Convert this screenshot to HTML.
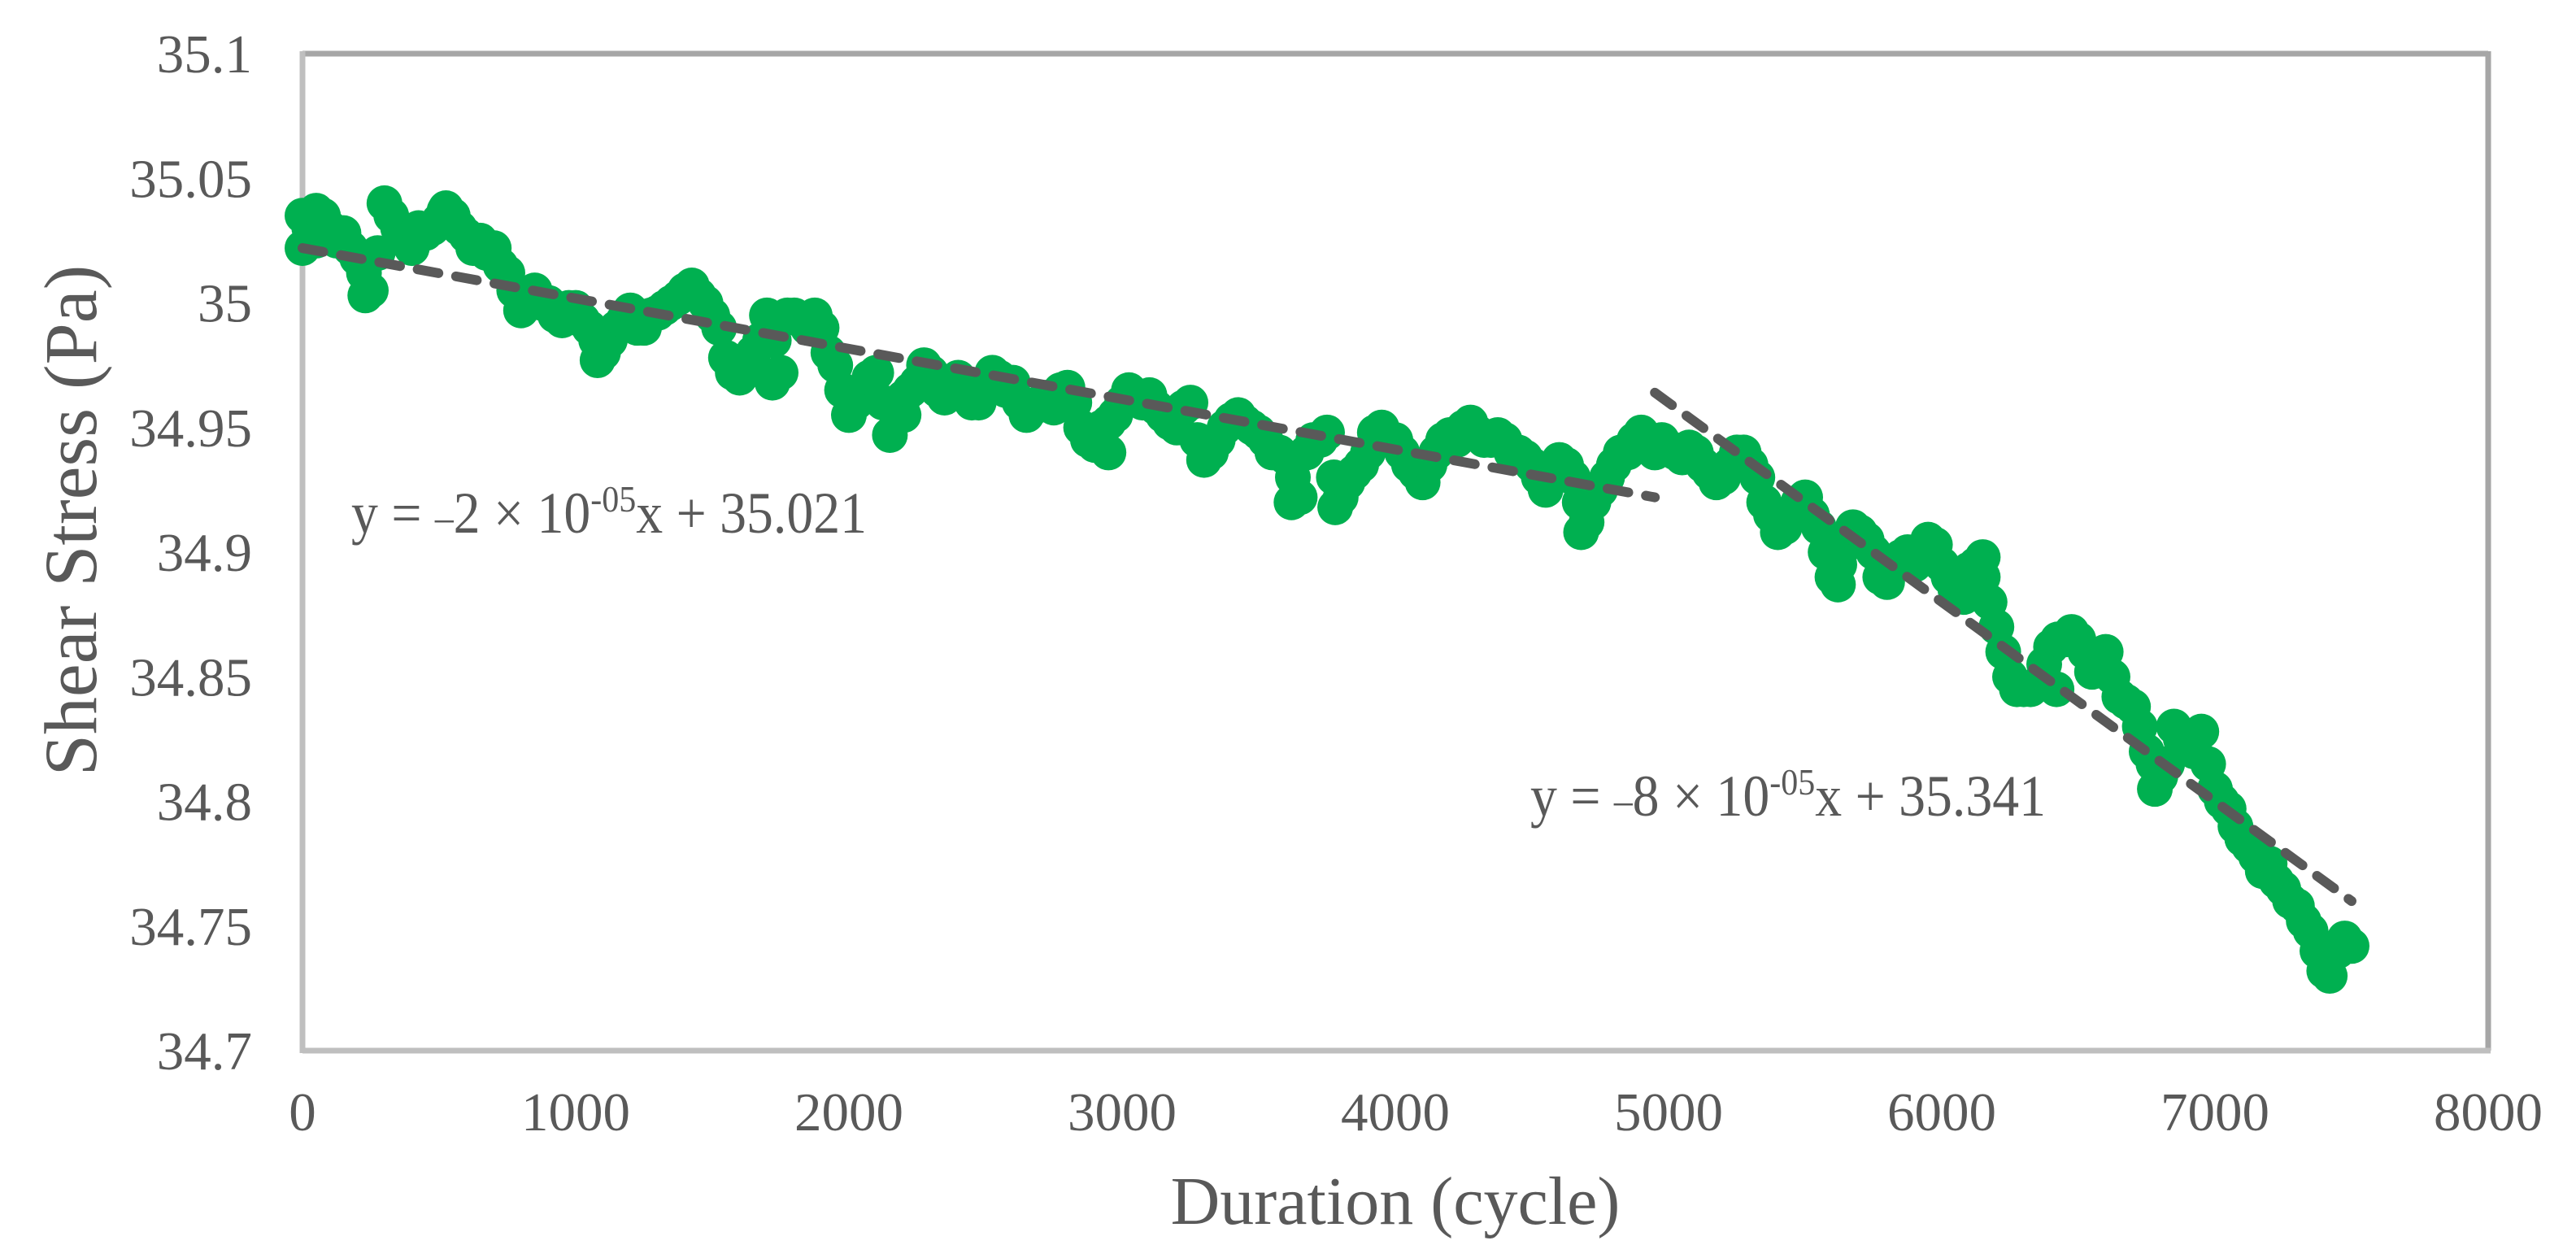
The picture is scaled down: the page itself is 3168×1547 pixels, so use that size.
<!DOCTYPE html>
<html><head><meta charset="utf-8"><style>
html,body{margin:0;padding:0;background:#fff;}
svg{display:block;font-family:"Liberation Serif",serif;}
</style></head><body>
<svg id="chart" width="3168" height="1547" viewBox="0 0 3168 1547" xmlns="http://www.w3.org/2000/svg">
<rect x="0" y="0" width="3168" height="1547" fill="#fff"/>
</svg>
<script>
const durations=[0,50,100,150,200,250,300,350,400,450,500,550,600,650,700,750,800,850,900,950,1000,1050,1100,1150,1200,1250,1300,1350,1400,1450,1500,1550,1600,1650,1700,1750,1800,1850,1900,1950,2000,2050,2100,2150,2200,2250,2300,2350,2400,2450,2500,2550,2600,2650,2700,2750,2800,2850,2900,2950,3000,3050,3100,3150,3200,3250,3300,3350,3400,3450,3500,3550,3600,3650,3700,3750,3800,3850,3900,3950,4000,4050,4100,4150,4200,4250,4300,4350,4400,4450,4500,4550,4600,4650,4700,4750,4800,4850,4900,4950,5000,5050,5100,5150,5200,5250,5300,5350,5400,5450,5500,5550,5600,5650,5700,5750,5800,5850,5900,5950,6000,6050,6100,6150,6200,6250,6300,6350,6400,6450,6500,6550,6600,6650,6700,6750,6800,6850,6900,6950,7000,7050,7100,7150,7200,7250,7300,7350,7400,7450,7500,
0,230,520,1080,1720,3620,3780,4680,5620,6080,6420,6780,7420,50,2200,2950,6150,5950];
const stress=[35.022,35.037,35.03,35.028,35.018,35.005,35.04,35.03,35.022,35.028,35.033,35.035,35.027,35.025,35.022,35.012,34.997,35.005,35.0,34.993,34.998,34.99,34.98,34.99,34.997,34.99,34.996,35.0,35.005,35.003,34.995,34.978,34.97,34.98,34.995,34.972,34.995,34.99,34.99,34.975,34.955,34.965,34.972,34.947,34.962,34.968,34.972,34.962,34.97,34.96,34.967,34.97,34.968,34.955,34.96,34.958,34.966,34.95,34.943,34.952,34.96,34.962,34.963,34.955,34.95,34.96,34.937,34.945,34.953,34.952,34.948,34.94,34.938,34.922,34.945,34.948,34.922,34.932,34.94,34.95,34.945,34.935,34.928,34.94,34.947,34.95,34.948,34.945,34.945,34.94,34.935,34.925,34.937,34.93,34.912,34.925,34.935,34.94,34.948,34.94,34.942,34.938,34.94,34.932,34.93,34.94,34.935,34.92,34.908,34.915,34.922,34.91,34.89,34.903,34.908,34.9,34.888,34.898,34.895,34.9,34.895,34.885,34.893,34.89,34.87,34.85,34.845,34.847,34.862,34.865,34.865,34.852,34.86,34.842,34.838,34.82,34.81,34.83,34.822,34.828,34.805,34.797,34.785,34.778,34.775,34.765,34.758,34.748,34.732,34.74,34.742,
35.035,35.003,35.037,34.977,34.968,34.92,34.918,34.908,34.887,34.882,34.845,34.805,34.73,35.025,34.955,34.94,34.898,34.905];
const durationsB=[25,75,125,175,225,275,325,375,425,475,525,575,625,675,725,775,825,875,925,975,1025,1075,1125,1175,1225,1275,1325,1375,1425,1475,1525,1575,1625,1675,1725,1775,1825,1875,1925,1975,2025,2075,2125,2175,2225,2275,2325,2375,2425,2475,2525,2575,2625,2675,2725,2775,2825,2875,2925,2975,3025,3075,3125,3175,3225,3275,3325,3375,3425,3475,3525,3575,3625,3675,3725,3775,3825,3875,3925,3975,4025,4075,4125,4175,4225,4275,4325,4375,4425,4475,4525,4575,4625,4675,4725,4775,4825,4875,4925,4975,5025,5075,5125,5175,5225,5275,5325,5375,5425,5475,5525,5575,5625,5675,5725,5775,5825,5875,5925,5975,6025,6075,6125,6175,6225,6275,6325,6375,6425,6475,6525,6575,6625,6675,6725,6775,6825,6875,6925,6975,7025,7075,7125,7175,7225,7275,7325,7375,7425,7475];
const stressB=[35.03,35.035,35.025,35.022,35.012,35.02,35.035,35.025,35.03,35.03,35.038,35.03,35.022,35.02,35.015,35.005,35.0,35.0,34.995,34.998,34.993,34.985,34.985,34.993,34.99,34.995,34.998,35.002,35.007,35.0,34.99,34.972,34.975,34.985,34.985,34.995,34.993,34.995,34.98,34.965,34.96,34.97,34.96,34.955,34.965,34.975,34.965,34.968,34.965,34.96,34.972,34.965,34.96,34.958,34.962,34.965,34.96,34.945,34.95,34.955,34.965,34.96,34.958,34.952,34.958,34.945,34.94,34.95,34.955,34.95,34.945,34.94,34.93,34.94,34.945,34.93,34.928,34.935,34.948,34.945,34.94,34.932,34.935,34.945,34.945,34.952,34.945,34.947,34.94,34.938,34.93,34.93,34.935,34.92,34.92,34.93,34.94,34.945,34.945,34.945,34.94,34.942,34.935,34.928,34.935,34.94,34.93,34.915,34.91,34.92,34.915,34.9,34.895,34.91,34.905,34.89,34.895,34.9,34.898,34.903,34.89,34.888,34.895,34.88,34.86,34.845,34.845,34.855,34.865,34.868,34.86,34.855,34.85,34.84,34.83,34.815,34.815,34.825,34.82,34.815,34.8,34.79,34.782,34.772,34.768,34.76,34.752,34.74,34.738,34.745];
const xTicks=[0,1000,2000,3000,4000,5000,6000,7000,8000];
const yTicks=[34.7,34.75,34.8,34.85,34.9,34.95,35,35.05,35.1];
const yTickLabels=["34.7","34.75","34.8","34.85","34.9","34.95","35","35.05","35.1"];
const trend1X=[0,4950];
const trend1Y=[35.022,34.922];
const trend2X=[4950,7500];
const trend2Y=[34.964,34.76];

const L=372,R=3060,T=66,B=1292;
const xMin=0,xMax=8000,yMin=34.7,yMax=35.1;
function xs(v){return L+(v-xMin)/(xMax-xMin)*(R-L);}
function ys(v){return B-(v-yMin)/(yMax-yMin)*(B-T);}
const NS="http://www.w3.org/2000/svg";
const svg=document.getElementById('chart');
function mk(tag,attrs,parent){const e=document.createElementNS(NS,tag);for(const k in attrs)e.setAttribute(k,attrs[k]);(parent||svg).appendChild(e);return e;}

let a=mk('line',{x1:L,y1:T,x2:R,y2:T,stroke:'#a6a6a6','stroke-width':7});


a=mk('line',{x1:R,y1:T-3,x2:R,y2:B,stroke:'#a6a6a6','stroke-width':7});


a=mk('line',{x1:L,y1:T-3,x2:L,y2:B+3,stroke:'#bfbfbf','stroke-width':7});


a=mk('line',{x1:L,y1:B,x2:R+3,y2:B,stroke:'#bfbfbf','stroke-width':7});



xTicks.forEach(t=>{
  const e=mk('text',{x:xs(t),y:1390,'text-anchor':'middle','font-size':67,fill:'#595959'});
  e.textContent=String(t);
  
  
});
yTicks.forEach((t,i)=>{
  const e=mk('text',{x:310,y:ys(t)+23,'text-anchor':'end','font-size':67,fill:'#595959'});
  e.textContent=yTickLabels[i];
  
  
});

const g=mk('g',{fill:'#00b050'});


durations.forEach((d,i)=>{
  const c=mk('circle',{cx:xs(d),cy:ys(stress[i]),r:22},g);
  
  
});
durationsB.forEach((d,i)=>{
  const c=mk('circle',{cx:xs(d),cy:ys(stressB[i]),r:22},g);
  
  
});

function trend(X,Y,name){
  const l=mk('line',{x1:xs(X[0]),y1:ys(Y[0]),x2:xs(X[1]),y2:ys(Y[1]),stroke:'#595959','stroke-width':12,'stroke-dasharray':'26 22','stroke-linecap':'round'});
  
  
}
trend(trend1X,trend1Y,'trendline-1');
trend(trend2X,trend2Y,'trendline-2');
</script>
<svg style="position:absolute;left:0;top:0" width="3168" height="1547" viewBox="0 0 3168 1547" xmlns="http://www.w3.org/2000/svg">
<text x="432" y="655" font-size="72" fill="#595959" textLength="634" lengthAdjust="spacingAndGlyphs" font-family="Liberation Serif, serif">y = <tspan font-size="50" dy="-2">–</tspan><tspan dy="2">2 × 10</tspan><tspan font-size="46" dy="-26">-05</tspan><tspan dy="26">x + 35.021</tspan></text>
<text x="1882" y="1003" font-size="72" fill="#595959" textLength="634" lengthAdjust="spacingAndGlyphs" font-family="Liberation Serif, serif">y = <tspan font-size="50" dy="-2">–</tspan><tspan dy="2">8 × 10</tspan><tspan font-size="46" dy="-26">-05</tspan><tspan dy="26">x + 35.341</tspan></text>
<text x="1716" y="1505" font-size="84" fill="#595959" text-anchor="middle" font-family="Liberation Serif, serif">Duration (cycle)</text>
<text transform="translate(118,640) rotate(-90)" font-size="92" fill="#595959" text-anchor="middle" font-family="Liberation Serif, serif">Shear Stress (Pa)</text>
</svg>
</body></html>
